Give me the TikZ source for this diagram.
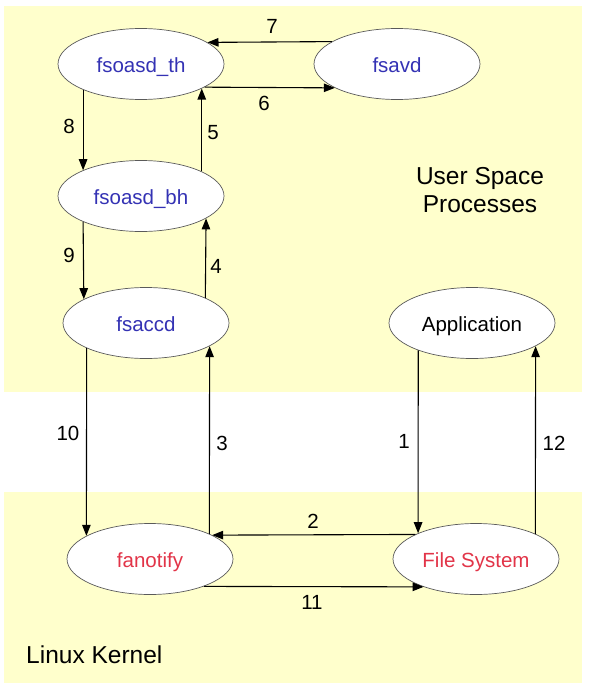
\documentclass[tikz,border=0pt]{standalone}
\usepackage{fontspec}
\setmainfont{Liberation Sans}
\usetikzlibrary{arrows.meta,shapes.geometric}
\definecolor{bandyellow}{RGB}{255,255,204}
\definecolor{procblue}{RGB}{52,50,180}
\definecolor{kernred}{RGB}{226,52,72}
\definecolor{edgegray}{RGB}{90,90,90}
\begin{document}
\begin{tikzpicture}[x=1pt,y=-1pt,
  proc/.style={ellipse,draw=edgegray,line width=0.7pt,fill=white,minimum width=166pt,minimum height=71pt,inner sep=0pt,text height=20pt,text depth=4pt,font=\fontsize{20.5}{24}\selectfont},
  arr/.style={line width=1.1pt,-{Triangle[length=11pt,width=8.5pt]}},
  num/.style={font=\fontsize{20.5}{24}\selectfont,inner sep=0pt},
  region/.style={font=\fontsize{24.5}{28}\selectfont,inner sep=0pt,align=center}]
\useasboundingbox (0,0) rectangle (589,693);
\fill[bandyellow] (4,6) rectangle (582,392);
\fill[bandyellow] (4,492) rectangle (582,683);
% nodes
\node[proc,text=procblue] (th) at (141,64) {fsoasd\_th};
\node[proc,text=procblue] (fsavd) at (397,64) {fsavd};
\node[proc,text=procblue] (bh) at (141,196) {fsoasd\_bh};
\node[proc,text=procblue] (accd) at (146,323) {fsaccd};
\node[proc,text=black] (app) at (472,323) {Application};
\node[proc,text=kernred] (fan) at (150,559) {fanotify};
\node[proc,text=kernred] (fs) at (476,559) {File System};
\node[region] (usp) at (480,190) {User Space\\Processes};
\node[region,anchor=west] (lk) at (26,655) {Linux Kernel};
% connectors
\draw[arr] (fsavd.161.2) -- (th.18.8);
\draw[arr] (th.-20.2) -- (fsavd.-159.8);
\draw[arr] (th.-156.7) -- (bh.156.7);
\draw[arr] (bh.22.6) -- (th.-22.6);
\draw[arr] (bh.-156) -- (accd.159.4);
\draw[arr] (accd.23.3) -- (bh.-19.9);
\draw[arr] (accd.-157.4) -- (fan.160.1);
\draw[arr] (fan.23.3) -- (accd.-20.6);
\draw[arr] (app.-153.8) -- (fs.156.7);
\draw[arr] (fs.23.3) -- (app.-20.6);
\draw[arr] (fs.158.3) -- (fan.21.7);
\draw[arr] (fan.-27.1) -- (fs.-152.9);
% labels
\node[num] (l7) at (272,26) {7};
\node[num] (l6) at (264,103) {6};
\node[num] (l8) at (69,126) {8};
\node[num] (l5) at (213,133) {5};
\node[num] (l9) at (69,255) {9};
\node[num] (l4) at (216,266) {4};
\node[num] (l10) at (68,433) {10};
\node[num] (l3) at (222,443) {3};
\node[num] (l1) at (404,441) {1};
\node[num] (l12) at (554,443) {12};
\node[num] (l2) at (313,521) {2};
\node[num] (l11) at (312,602) {11};
\end{tikzpicture}
\end{document}
